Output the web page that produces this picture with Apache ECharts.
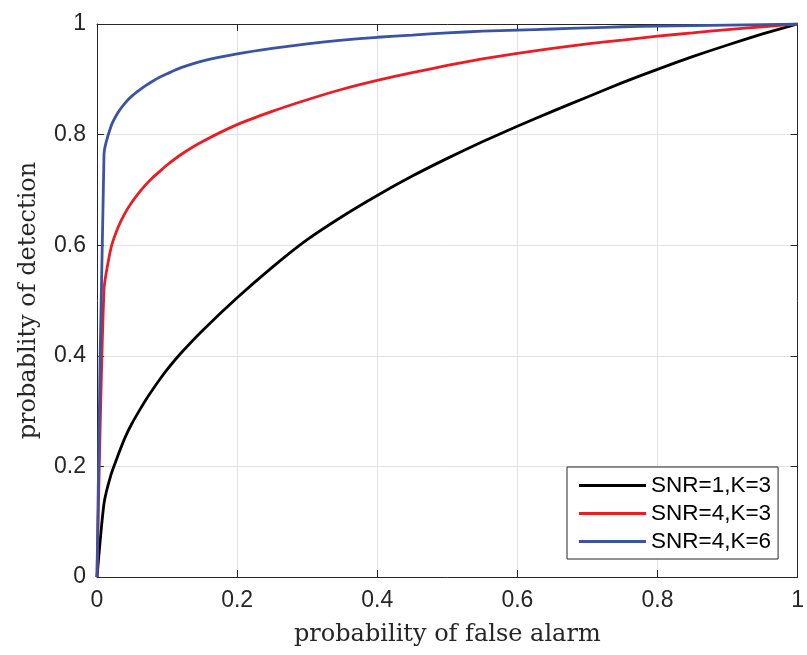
<!DOCTYPE html>
<html>
<head>
<meta charset="utf-8">
<script src="https://cdn.jsdelivr.net/npm/echarts@6/dist/echarts.min.js"></script>
<style>html,body{margin:0;padding:0;background:#fff}#c{width:807px;height:655px}</style>
</head>
<body>
<div id="c"></div>
<script>
const pfa = [0, 0.01, 0.02, 0.03, 0.04, 0.05, 0.06, 0.07, 0.08, 0.09, 0.10, 0.12, 0.15, 0.20, 0.25, 0.30, 0.35, 0.40, 0.45, 0.50, 0.55, 0.60, 0.65, 0.70, 0.75, 0.80, 0.85, 0.90, 0.95, 1.00];
const pdSnr1K3 = [0, 0.133, 0.185, 0.220, 0.252, 0.278, 0.300, 0.321, 0.340, 0.358, 0.375, 0.405, 0.445, 0.505, 0.560, 0.610, 0.652, 0.690, 0.725, 0.757, 0.787, 0.815, 0.842, 0.868, 0.894, 0.918, 0.941, 0.962, 0.982, 1.000];
const pdSnr4K3 = [0, 0.520, 0.595, 0.632, 0.658, 0.678, 0.695, 0.710, 0.723, 0.734, 0.745, 0.764, 0.787, 0.818, 0.842, 0.863, 0.882, 0.898, 0.912, 0.925, 0.937, 0.947, 0.956, 0.964, 0.971, 0.978, 0.984, 0.990, 0.995, 1.000];
const pdSnr4K6 = [0, 0.765, 0.815, 0.840, 0.857, 0.870, 0.880, 0.889, 0.897, 0.904, 0.910, 0.921, 0.933, 0.946, 0.956, 0.964, 0.971, 0.976, 0.980, 0.984, 0.987, 0.989, 0.991, 0.993, 0.995, 0.996, 0.997, 0.998, 0.999, 1.000];
const seriesNames = ['SNR=1,K=3', 'SNR=4,K=3', 'SNR=4,K=6'];
const xTicks = [0, 0.2, 0.4, 0.6, 0.8, 1];
const yTicks = [0, 0.2, 0.4, 0.6, 0.8, 1];
const xLabel = 'probability of false alarm';
const yLabel = 'probablity of detection';

const colors = ['#000000', '#ec1c24', '#3a53a4'];
const pairs = arr => pfa.map((x, i) => [x, arr[i]]);
const allData = [pdSnr1K3, pdSnr4K3, pdSnr4K6];

const axisColor = '#262626';
const tickFont = 'Liberation Sans, Arial, Helvetica, sans-serif';
const serif = '"DejaVu Serif", "Liberation Serif", serif';

function mainAxis(ticks, extra) {
  return Object.assign({
    type: 'value', min: ticks[0], max: ticks[ticks.length - 1], interval: 0.2,
    axisLine: { show: true, onZero: false, lineStyle: { color: axisColor, width: 1 } },
    axisTick: { show: true, inside: true, length: 7, lineStyle: { color: axisColor, width: 1 } },
    splitLine: { show: true, lineStyle: { color: '#e2e2e2', width: 1 } }
  }, extra);
}
function sideAxis(ticks, pos) {
  return {
    type: 'value', min: ticks[0], max: ticks[ticks.length - 1], interval: 0.2, position: pos,
    axisLine: { show: true, onZero: false, lineStyle: { color: axisColor, width: 1 } },
    axisTick: { show: true, inside: true, length: 7, lineStyle: { color: axisColor, width: 1 } },
    axisLabel: { show: false },
    splitLine: { show: false }
  };
}

const chart = echarts.init(document.getElementById('c'), null, { renderer: 'canvas' });
chart.setOption({
  animation: false,
  backgroundColor: '#ffffff',
  grid: { left: 97, right: 8, top: 24, bottom: 78, containLabel: false },
  xAxis: [
    mainAxis(xTicks, { position: 'bottom', name: xLabel, nameLocation: 'middle', nameGap: 46,
      nameTextStyle: { color: axisColor, fontSize: 24, fontFamily: serif },
      axisLabel: { color: axisColor, fontSize: 23, fontFamily: tickFont, margin: 12 } }),
    sideAxis(xTicks, 'top')
  ],
  yAxis: [
    mainAxis(yTicks, { position: 'left', name: yLabel, nameLocation: 'middle', nameGap: 56,
      nameTextStyle: { color: axisColor, fontSize: 24, fontFamily: serif },
      axisLabel: { color: axisColor, fontSize: 23, fontFamily: tickFont, margin: 11 } }),
    sideAxis(yTicks, 'right')
  ],
  legend: {
    orient: 'vertical', left: 567, top: 467,
    data: seriesNames,
    icon: 'rect', itemWidth: 67, itemHeight: 3, itemGap: 5,
    padding: [7, 7, 6, 12],
    backgroundColor: '#ffffff', borderColor: '#262626', borderWidth: 1, borderRadius: 0,
    textStyle: { color: '#000', fontSize: 22.5, fontFamily: tickFont, lineHeight: 22, padding: [0, 0, 0, 0] }
  },
  series: seriesNames.map((n, i) => ({
    name: n, type: 'line', data: pairs(allData[i]), symbol: 'none', showSymbol: false,
    smooth: 0.2, lineStyle: { color: colors[i], width: 2.8 }, itemStyle: { color: colors[i] },
    z: 3 + i, clip: true
  }))
});
</script>
</body>
</html>
